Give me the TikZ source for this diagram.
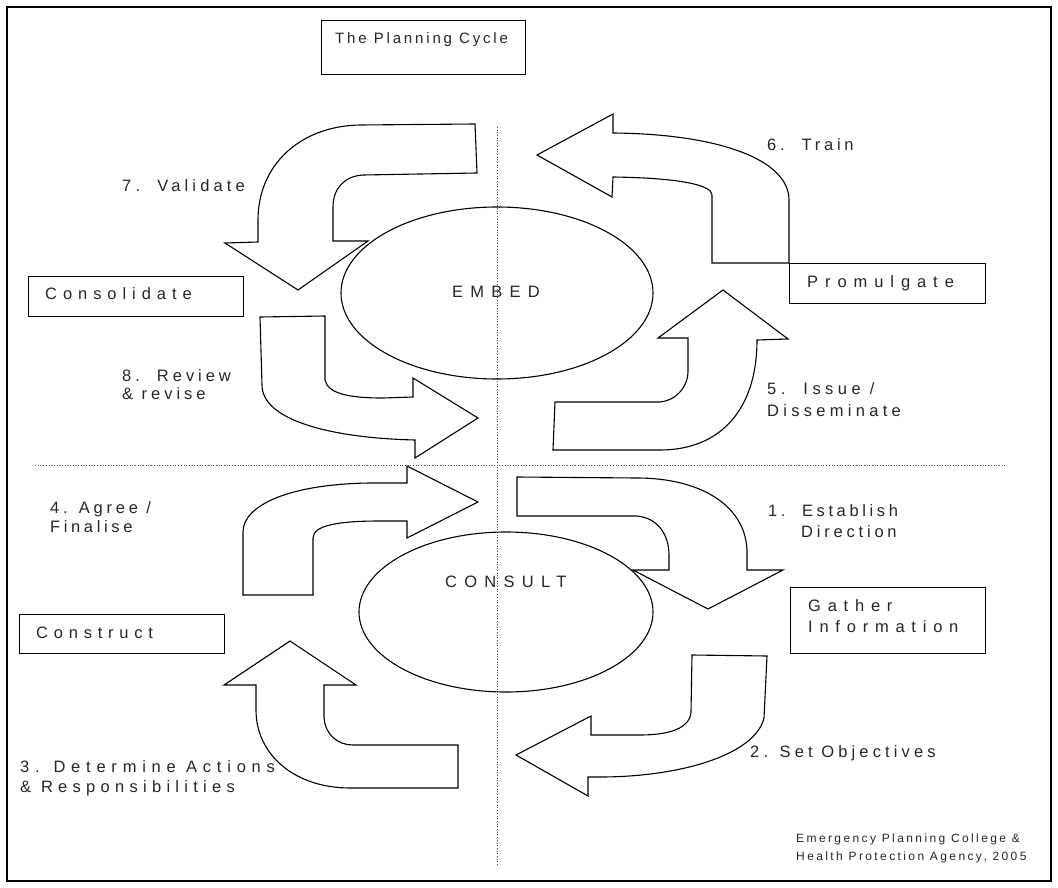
\documentclass[tikz,border=0pt]{standalone}
\usepackage{fontspec}
\setmainfont{Liberation Sans}
\begin{document}
\begin{tikzpicture}[x=1pt,y=-1pt,
  lbl/.style={font=\fontsize{16.5}{19}\selectfont\addfontfeature{LetterSpace=#1}, inner sep=0pt, anchor=base west, text=black!85},
  ttl/.style={font=\fontsize{15}{18}\selectfont\addfontfeature{LetterSpace=#1}, inner sep=0pt, anchor=base west, text=black!85},
  ftr/.style={font=\fontsize{12}{14}\selectfont\addfontfeature{LetterSpace=#1}, inner sep=0pt, anchor=base west, text=black!85},
  boxshape/.style={draw, line width=1pt, inner sep=0pt, anchor=north west},
  cycarrow/.style={draw, line width=1.1pt, line join=miter},
  divider/.style={draw=black!70, dotted, line width=0.7pt}]
\useasboundingbox (0,0) rectangle (1058,888);
\draw[line width=2pt] (7,7) rectangle (1051,881);

% dividers
\coordinate (vtop) at (497,127);
\coordinate (vbot) at (497,866);
\coordinate (hl) at (35,465);
\coordinate (hr) at (1005,465);
\draw[divider] (vtop) -- (vbot);
\draw[divider] (hl) -- (hr);

% ellipses
\draw[line width=1.1pt] (497,293) ellipse [x radius=156, y radius=86];
\node[lbl=44] (embed) at (452,297) {EMBED};
\draw[line width=1.1pt] (506,612) ellipse [x radius=147, y radius=80];
\node[lbl=44] (consult) at (445,587) {CONSULT};

% boxes
\node[boxshape, minimum width=204pt, minimum height=54pt] (titlebox) at (321,20) {};
\node[ttl=19] (title) at (335,44) {The Planning Cycle};
\node[boxshape, minimum width=215pt, minimum height=40pt] (consbox) at (28,276) {};
\node[lbl=36] (cons) at (45,299) {Consolidate};
\node[boxshape, minimum width=196pt, minimum height=40pt] (promobox) at (789,263) {};
\node[lbl=42] (promo) at (807,287) {Promulgate};
\node[boxshape, minimum width=205pt, minimum height=39pt] (constbox) at (19,614) {};
\node[lbl=35] (const) at (36,638) {Construct};
\node[boxshape, minimum width=195pt, minimum height=66pt] (gathbox) at (790,587) {};
\node[lbl=41] (gath1) at (808,611) {Gather};
\node[lbl=41] (gath2) at (808,632) {Information};

% arrow 7 Validate
\draw[cycarrow] (475,124) -- (360,125) .. controls (300,126) and (258,165) .. (258,220)
  -- (258,242) -- (225,243) -- (298,290) -- (368,241) -- (333,241) -- (333,207)
  .. controls (333,188) and (345,176) .. (363,175) -- (477,173) -- cycle;
% arrow 6 Train
\draw[cycarrow] (537,155) -- (613,114) -- (613,133) .. controls (720,134) and (789,160) .. (789,200)
  -- (789,263) -- (712,263) -- (712,195) .. controls (712,185) and (680,178) .. (613,177)
  -- (612,197) -- cycle;
% arrow 8 Review
\draw[cycarrow] (260,317) -- (325,316) -- (325,380) .. controls (328,394) and (350,398) .. (383,398)
  -- (413,397) -- (413,378) -- (478,418) -- (415,458) -- (415,440)
  .. controls (330,438) and (262,420) .. (262,385) -- cycle;
% arrow 5 Issue
\draw[cycarrow] (723,290) -- (788,339) -- (757,340) .. controls (757,410) and (720,450) .. (660,450)
  -- (553,450) -- (555,402) -- (660,402) .. controls (678,400) and (688,385) .. (688,372)
  -- (688,338) -- (658,338) -- cycle;
% arrow 4 Agree
\draw[cycarrow] (243,595) -- (313,595) -- (313,538) .. controls (313,525) and (340,521) .. (380,521)
  -- (407,521) -- (407,538) -- (478,502) -- (407,466) -- (407,483) -- (370,483)
  .. controls (290,484) and (243,505) .. (243,532) -- cycle;
% arrow 1 Establish
\draw[cycarrow] (517,477) -- (517,516) -- (637,516) .. controls (658,518) and (669,535) .. (669,555)
  -- (669,570) -- (633,570) -- (708,609) -- (783,570) -- (747,570) -- (747,550)
  .. controls (745,505) and (700,478) .. (637,478) -- cycle;
% arrow 2 Set Objectives
\draw[cycarrow] (516,755) -- (591,716) -- (591,735) -- (640,735) .. controls (670,735) and (690,728) .. (691,712)
  -- (692,655) -- (767,656) -- (764,718) .. controls (755,755) and (680,777) .. (600,777)
  -- (588,777) -- (588,796) -- cycle;
% arrow 3 Determine
\draw[cycarrow] (290,641) -- (356,685) -- (324,685) -- (324,717) .. controls (325,735) and (338,745) .. (353,745)
  -- (458,745) -- (458,788) -- (350,788) .. controls (295,788) and (256,755) .. (256,710)
  -- (256,685) -- (224,685) -- cycle;

% labels
\node[lbl=25] (l7) at (122,192) {7.\ \ Validate};
\node[lbl=23] (l6) at (767,151) {6.\ \ Train};
\node[lbl=24] (l8a) at (122,381) {8.\ \ Review};
\node[lbl=24] (l8b) at (122,399) {\& revise};
\node[lbl=27] (l5a) at (767,394) {5.\ \ Issue /};
\node[lbl=26] (l5b) at (767,416) {Disseminate};
\node[lbl=23] (l4a) at (50,513) {4. Agree /};
\node[lbl=22] (l4b) at (50,532) {Finalise};
\node[lbl=22] (l1a) at (768,516) {1.\ \ Establish};
\node[lbl=23] (l1b) at (801,537) {Direction};
\node[lbl=25] (l2) at (750,757) {2. Set Objectives};
\node[lbl=35] (l3a) at (20,772) {3. Determine Actions};
\node[lbl=32] (l3b) at (20,792) {\& Responsibilities};
\node[ftr=20] (f1) at (796,842) {Emergency Planning College \&};
\node[ftr=20] (f2) at (796,860) {Health Protection Agency, 2005};
\end{tikzpicture}
\end{document}
